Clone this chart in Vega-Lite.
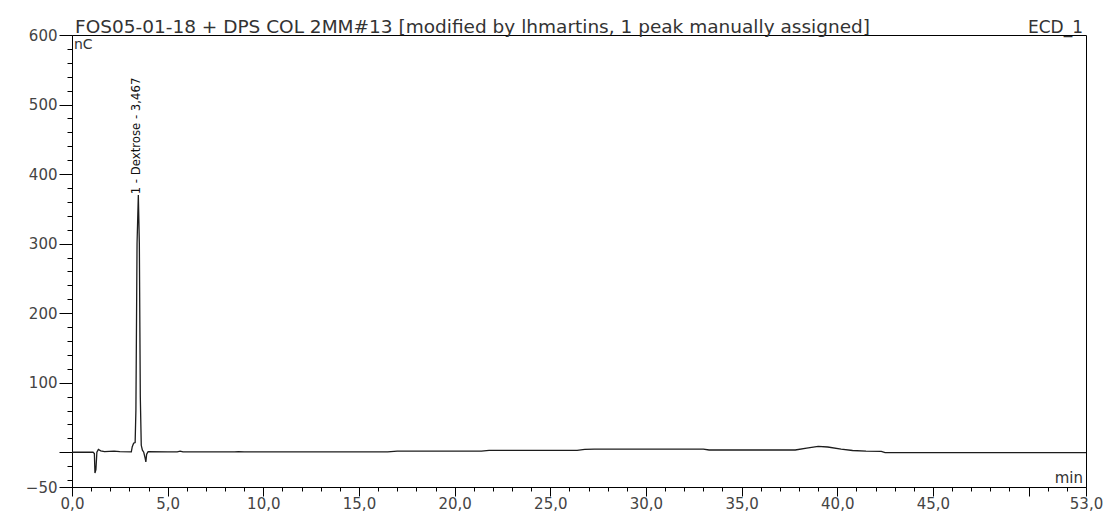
{
  "$schema": "https://vega.github.io/schema/vega-lite/v6.json",
  "width": 1014,
  "height": 452,
  "autosize": {"type": "none"},
  "padding": {"left": 72, "top": 35, "right": 23, "bottom": 26},
  "background": "white",
  "config": {"view": {"stroke": "#000", "strokeWidth": 1}, "font": "DejaVu Sans"},
  "resolve": {"axis": {"x": "independent", "y": "independent"}},
  "layer": [
    {
      "data": {"values": [
        {"t": 0, "v": 0}, {"t": 1.1, "v": 0}, {"t": 1.17, "v": -2}, {"t": 1.2, "v": -30}, {"t": 1.25, "v": -25},
        {"t": 1.3, "v": 0}, {"t": 1.38, "v": 4}, {"t": 1.5, "v": 2}, {"t": 1.7, "v": 1}, {"t": 2.2, "v": 1.5},
        {"t": 2.5, "v": 0.8}, {"t": 3.1, "v": 0.5}, {"t": 3.15, "v": 8}, {"t": 3.22, "v": 13}, {"t": 3.3, "v": 14},
        {"t": 3.34, "v": 60}, {"t": 3.4, "v": 300}, {"t": 3.467, "v": 370}, {"t": 3.52, "v": 300}, {"t": 3.57, "v": 80},
        {"t": 3.62, "v": 10}, {"t": 3.68, "v": 3}, {"t": 3.75, "v": 0}, {"t": 3.82, "v": -8}, {"t": 3.86, "v": -14},
        {"t": 3.9, "v": -3}, {"t": 3.98, "v": 1}, {"t": 5.0, "v": 0.5}, {"t": 5.5, "v": 0.5}, {"t": 5.65, "v": 1.5},
        {"t": 5.8, "v": 0.5}, {"t": 8.5, "v": 0.5}, {"t": 8.7, "v": 1}, {"t": 9.0, "v": 0.5}, {"t": 16.5, "v": 0.5},
        {"t": 17.0, "v": 1.5}, {"t": 21.4, "v": 1.6}, {"t": 21.8, "v": 2.6}, {"t": 26.4, "v": 2.8}, {"t": 26.8, "v": 4},
        {"t": 27.3, "v": 4.6}, {"t": 33.0, "v": 4.6}, {"t": 33.3, "v": 3.2}, {"t": 37.8, "v": 3.2}, {"t": 38.4, "v": 6},
        {"t": 39.0, "v": 8.5}, {"t": 39.5, "v": 7.5}, {"t": 40.2, "v": 4.5}, {"t": 40.8, "v": 2.5}, {"t": 41.5, "v": 1.5},
        {"t": 42.3, "v": 1.2}, {"t": 42.5, "v": -0.5}, {"t": 53, "v": -0.5}
      ]},
      "mark": {"type": "line", "color": "#1c1c1c", "strokeWidth": 1.3, "interpolate": "linear", "clip": true},
      "encoding": {
        "x": {
          "field": "t", "type": "quantitative",
          "scale": {"domain": [0, 53], "nice": false, "zero": false},
          "axis": {
            "title": null, "grid": false, "orient": "bottom",
            "values": [0,1,2,3,4,5,6,7,8,9,10,11,12,13,14,15,16,17,18,19,20,21,22,23,24,25,26,27,28,29,30,31,32,33,34,35,36,37,38,39,40,41,42,43,44,45,46,47,48,49,50,51,52,53],
            "domainColor": "#000", "tickColor": "#000", "tickWidth": 1,
            "tickSize": {"condition": {"test": "datum.value % 5 === 0 || datum.value === 53", "value": 9}, "value": 4},
            "labelExpr": "((datum.value % 5 === 0 && datum.value !== 50) || datum.value === 53) ? replace(format(datum.value, '.1f'), '.', ',') : ''",
            "labelOverlap": false, "labelFlush": false,
            "labelFont": "DejaVu Sans", "labelFontSize": 15, "labelColor": "#444", "labelPadding": 0
          }
        },
        "y": {
          "field": "v", "type": "quantitative",
          "scale": {"domain": [-50, 600], "nice": false, "zero": false},
          "axis": {
            "title": null, "grid": false, "orient": "left",
            "values": [-50,-40,-20,0,20,40,60,80,100,120,140,160,180,200,220,240,260,280,300,320,340,360,380,400,420,440,460,480,500,520,540,560,580,600],
            "domainColor": "#000", "tickColor": "#000", "tickWidth": 1,
            "tickSize": {"condition": {"test": "datum.value % 100 === 0 || datum.value === -50", "value": 13}, "value": 5},
            "labelExpr": "((datum.value % 100 === 0 && datum.value !== 0) || datum.value === -50) ? format(datum.value, 'd') : ''",
            "labelOverlap": false, "labelFlush": false,
            "labelFont": "DejaVu Sans", "labelFontSize": 15, "labelColor": "#444", "labelPadding": 2
          }
        }
      }
    },
    {
      "data": {"values": [{"label": "FOS05-01-18 + DPS COL 2MM#13 [modified by lhmartins, 1 peak manually assigned]"}]},
      "mark": {"type": "text", "align": "left", "baseline": "alphabetic", "dx": 3, "dy": -2, "fontSize": 18.5, "font": "DejaVu Sans", "color": "#333", "clip": false},
      "encoding": {"x": {"datum": 0, "axis": null}, "y": {"datum": 600, "axis": null}, "text": {"field": "label"}}
    },
    {
      "data": {"values": [{"label": "ECD_1"}]},
      "mark": {"type": "text", "align": "right", "baseline": "alphabetic", "dx": -3, "dy": -2, "fontSize": 17, "font": "DejaVu Sans", "color": "#333"},
      "encoding": {"x": {"datum": 53, "axis": null}, "y": {"datum": 600, "axis": null}, "text": {"field": "label"}}
    },
    {
      "data": {"values": [{"label": "nC"}]},
      "mark": {"type": "text", "align": "left", "baseline": "top", "dx": 2, "dy": 3, "fontSize": 14, "font": "DejaVu Sans", "color": "#333"},
      "encoding": {"x": {"datum": 0, "axis": null}, "y": {"datum": 600, "axis": null}, "text": {"field": "label"}}
    },
    {
      "data": {"values": [{"label": "min"}]},
      "mark": {"type": "text", "align": "right", "baseline": "bottom", "dx": -3, "dy": -1, "fontSize": 15, "font": "DejaVu Sans", "color": "#333"},
      "encoding": {"x": {"datum": 53, "axis": null}, "y": {"datum": -50, "axis": null}, "text": {"field": "label"}}
    },
    {
      "data": {"values": [{"name": "1 - Dextrose - 3,467", "rt": 3.467}]},
      "mark": {"type": "text", "angle": 270, "align": "left", "baseline": "middle", "dx": 2, "dy": -2, "fontSize": 13, "font": "Liberation Sans Narrow, DejaVu Sans Condensed", "color": "#111"},
      "encoding": {"x": {"field": "rt", "type": "quantitative", "axis": null}, "y": {"datum": 368, "axis": null}, "text": {"field": "name"}}
    }
  ]
}
